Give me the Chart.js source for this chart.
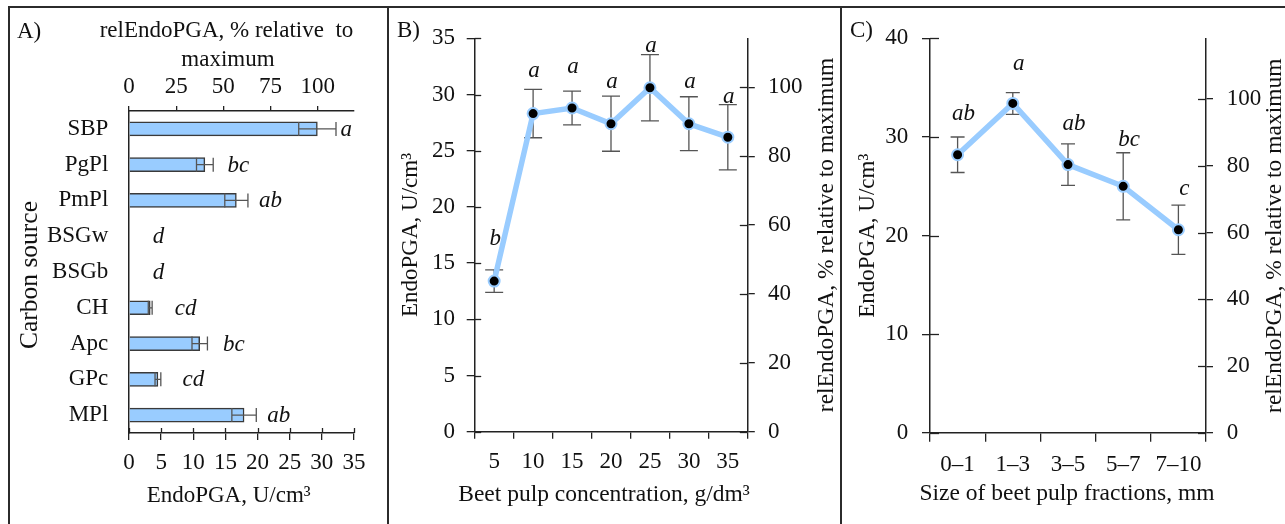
<!DOCTYPE html>
<html>
<head>
<meta charset="utf-8">
<script src="https://cdn.jsdelivr.net/npm/chart.js@4.4.1/dist/chart.umd.min.js"></script>
<style>
  html, body { margin: 0; padding: 0; background: #fff; }
  body { width: 1285px; height: 524px; position: relative; overflow: hidden; }
  canvas { position: absolute; }
  .rule { position: absolute; background: #2b2b2b; }
</style>
</head>
<body>
<div class="rule" style="left:8px; top:6px; width:1277px; height:2px"></div>
<div class="rule" style="left:8px; top:6px; width:2px; height:518px"></div>
<div class="rule" style="left:387px; top:6px; width:2px; height:518px"></div>
<div class="rule" style="left:840px; top:6px; width:2px; height:518px"></div>
<canvas id="chartA" width="377" height="516" style="left:10px; top:8px"></canvas>
<canvas id="chartB" width="449" height="516" style="left:390px; top:8px"></canvas>
<canvas id="chartC" width="443" height="516" style="left:842px; top:8px"></canvas>
<script>
// A) carbon source
const carbonSources = ['SBP', 'PgPl', 'PmPl', 'BSGw', 'BSGb', 'CH', 'Apc', 'GPc', 'MPl'];
const carbonActivity = [29.3, 11.8, 16.7, 0, 0, 3.3, 11.0, 4.5, 17.9];
const carbonSd = [2.9, 1.3, 1.8, 0, 0, 0.3, 1.2, 0.45, 1.9];
const carbonGroups = ['a', 'bc', 'ab', 'd', 'd', 'cd', 'bc', 'cd', 'ab'];
const carbonGroupAt = [33.8, 17.0, 22.0, 4.6, 4.6, 8.8, 16.3, 10.0, 23.3];

// B) beet pulp concentration
const concLabels = ['5', '10', '15', '20', '25', '30', '35'];
const concActivity = [13.4, 28.3, 28.8, 27.4, 30.6, 27.4, 26.2];
const concSd = [1.0, 2.15, 1.5, 2.45, 2.95, 2.4, 2.9];
const concGroups = ['b', 'a', 'a', 'a', 'a', 'a', 'a'];
const concGroupAt = [17.05, 32.0, 32.4, 31.0, 34.25, 31.0, 29.7];

// C) beet pulp fraction size
const sizeLabels = ['0–1', '1–3', '3–5', '5–7', '7–10'];
const sizeActivity = [28.2, 33.4, 27.2, 25.0, 20.6];
const sizeSd = [1.8, 1.1, 2.1, 3.4, 2.5];
const sizeGroups = ['ab', 'a', 'ab', 'bc', 'c'];
const sizeGroupAt = [32.2, 37.3, 31.2, 29.6, 24.6];

// tick labels
const activityTicksA = [0, 5, 10, 15, 20, 25, 30, 35];
const relTicksA = [0, 25, 50, 75, 100];
const activityTicksB = [0, 5, 10, 15, 20, 25, 30, 35];
const relTicksB = [0, 20, 40, 60, 80, 100];
const activityTicksC = [0, 10, 20, 30, 40];
const relTicksC = [0, 20, 40, 60, 80, 100];

// activity that equals 100 % on the relative axis of each panel
const relFullA = 29.35, relFullB = 30.64, relFullC = 33.84;

const FAMILY = '"Liberation Serif", "Times New Roman", serif';
const FS = 23;
const INK = '#111';
const AXIS = '#222';
const BLUE = '#99ccff';

function drawErrors(chart, o) {
  const ctx = chart.ctx;
  const meta = chart.getDatasetMeta(0);
  const vs = chart.scales[o.valueAxis];
  ctx.save();
  ctx.strokeStyle = '#555';
  ctx.lineWidth = 1.3;
  o.values.forEach((v, i) => {
    const e = o.errors[i];
    if (!e) return;
    const el = meta.data[i];
    const a = vs.getPixelForValue(v - e);
    const b = vs.getPixelForValue(v + e);
    ctx.beginPath();
    if (o.horizontal) {
      const y = el.y;
      ctx.moveTo(a, y); ctx.lineTo(b, y);
      ctx.moveTo(a, y - o.cap); ctx.lineTo(a, y + o.cap);
      ctx.moveTo(b, y - o.cap); ctx.lineTo(b, y + o.cap);
    } else {
      const x = el.x;
      ctx.moveTo(x, a); ctx.lineTo(x, b);
      ctx.moveTo(x - o.cap, a); ctx.lineTo(x + o.cap, a);
      ctx.moveTo(x - o.cap, b); ctx.lineTo(x + o.cap, b);
    }
    ctx.stroke();
  });
  ctx.restore();
}

function drawGroups(chart, o) {
  const ctx = chart.ctx;
  const meta = chart.getDatasetMeta(0);
  const vs = chart.scales[o.valueAxis];
  ctx.save();
  ctx.fillStyle = INK;
  ctx.font = 'italic ' + FS + 'px ' + FAMILY;
  ctx.textAlign = 'center';
  ctx.textBaseline = 'alphabetic';
  o.groups.forEach((g, i) => {
    const el = meta.data[i];
    if (o.horizontal) {
      ctx.fillText(g, vs.getPixelForValue(o.groupAt[i]), el.y + 7);
    } else {
      ctx.fillText(g, el.x + o.dx, vs.getPixelForValue(o.groupAt[i]) + 5);
    }
  });
  ctx.restore();
}

function drawInnerTicks(chart, list) {
  const {ctx, chartArea: ca} = chart;
  ctx.save();
  ctx.strokeStyle = AXIS;
  ctx.lineWidth = 1.3;
  list.forEach(({axis, len}) => {
    const s = chart.scales[axis];
    s.ticks.forEach((t, i) => {
      const p = Math.round(s.getPixelForTick(i)) + 0.5;
      ctx.beginPath();
      if (s.position === 'left') { ctx.moveTo(ca.left, p); ctx.lineTo(ca.left + len, p); }
      else if (s.position === 'right') { ctx.moveTo(ca.right - len, p); ctx.lineTo(ca.right, p); }
      else { ctx.moveTo(p, ca.bottom - len); ctx.lineTo(p, ca.bottom); }
      ctx.stroke();
    });
  });
  ctx.restore();
}

function drawTexts(chart, texts) {
  const ctx = chart.ctx;
  texts.forEach(t => {
    ctx.save();
    ctx.fillStyle = INK;
    ctx.font = (t.size || FS) + 'px ' + FAMILY;
    ctx.textAlign = t.align || 'center';
    ctx.textBaseline = 'alphabetic';
    ctx.translate(t.x, t.y);
    if (t.rot) ctx.rotate(-Math.PI / 2);
    ctx.fillText(t.text, 0, 0);
    ctx.restore();
  });
}

const panelDecor = {
  id: 'panelDecor',
  beforeDatasetsDraw(chart, args, o) {
    if (!o.errorsOnTop) drawErrors(chart, o);
  },
  afterDatasetsDraw(chart, args, o) {
    if (o.errorsOnTop) drawErrors(chart, o);
    drawGroups(chart, o);
    drawInnerTicks(chart, o.innerTicks || []);
    drawTexts(chart, o.texts || []);
  }
};

function fixedTicks(values) {
  return s => { s.ticks = values.map(v => ({value: v})); };
}

const tickFont = { color: INK, font: { family: FAMILY, size: FS }, autoSkip: false, maxRotation: 0 };

// ---- Panel A ----
new Chart(document.getElementById('chartA'), {
  type: 'bar',
  data: {
    labels: carbonSources,
    datasets: [{
      data: carbonActivity,
      backgroundColor: BLUE,
      borderColor: '#3a3a3a',
      borderWidth: 1.5,
      barThickness: 14,
      xAxisID: 'x',
      yAxisID: 'y'
    }]
  },
  options: {
    indexAxis: 'y',
    responsive: false,
    animation: false,
    layout: { autoPadding: false, padding: { top: 0, left: 0, right: 33, bottom: 0 } },
    plugins: {
      legend: { display: false },
      tooltip: { enabled: false },
      panelDecor: {
        horizontal: true,
        errorsOnTop: true,
        valueAxis: 'x',
        values: carbonActivity,
        errors: carbonSd,
        cap: 7,
        groups: carbonGroups,
        groupAt: carbonGroupAt,
        innerTicks: [{ axis: 'x', len: 5 }],
        texts: [
          { text: 'A)', x: 7, y: 30, align: 'left' },
          { text: 'relEndoPGA, % relative  to', x: 216.5, y: 29 },
          { text: 'maximum', x: 218, y: 58 },
          { text: 'EndoPGA, U/cm³', x: 218.7, y: 493.7 },
          { text: 'Carbon source', x: 27, y: 267, rot: true, size: 25.5 }
        ]
      }
    },
    scales: {
      x: {
        type: 'linear', position: 'bottom', min: 0, max: 35,
        afterBuildTicks: fixedTicks(activityTicksA),
        afterFit: s => { s.height = 91; },
        grid: { drawOnChartArea: false, color: AXIS, lineWidth: 1.3, tickLength: 7 },
        border: { color: AXIS, width: 1.5 },
        ticks: Object.assign({ padding: 9.4 }, tickFont)
      },
      x2: {
        type: 'linear', position: 'top', min: 0, max: 35 / relFullA * 100,
        afterBuildTicks: fixedTicks(relTicksA),
        afterFit: s => { s.height = 103; },
        grid: { drawOnChartArea: false, color: AXIS, lineWidth: 1.3, tickLength: 5 },
        border: { color: AXIS, width: 1.5 },
        ticks: Object.assign({ padding: 5.2 }, tickFont)
      },
      y: {
        type: 'category', position: 'left',
        afterFit: s => { s.width = 119; },
        grid: { display: false, drawTicks: false },
        border: { display: true, color: AXIS, width: 1.5 },
        ticks: Object.assign({ padding: 20.7 }, tickFont)
      }
    }
  },
  plugins: [panelDecor]
});

// ---- Panel B ----
new Chart(document.getElementById('chartB'), {
  type: 'line',
  data: {
    labels: concLabels,
    datasets: [{
      data: concActivity,
      borderColor: BLUE,
      borderWidth: 5.5,
      tension: 0,
      pointRadius: 5.5,
      pointBackgroundColor: '#000',
      pointBorderColor: BLUE,
      pointBorderWidth: 2,
      yAxisID: 'y'
    }]
  },
  options: {
    responsive: false,
    animation: false,
    layout: { autoPadding: false, padding: { top: 30.3, left: 0, right: 0, bottom: 0 } },
    plugins: {
      legend: { display: false },
      tooltip: { enabled: false },
      panelDecor: {
        horizontal: false,
        errorsOnTop: false,
        valueAxis: 'y',
        values: concActivity,
        errors: concSd,
        cap: 9,
        dx: 1,
        groups: concGroups,
        groupAt: concGroupAt,
        innerTicks: [{ axis: 'y', len: 6.5 }, { axis: 'y2', len: 7.5 }],
        texts: [
          { text: 'B)', x: 7, y: 28.7, align: 'left' },
          { text: 'EndoPGA, U/cm³', x: 27, y: 227, rot: true },
          { text: 'relEndoPGA, % relative to maximum', x: 443, y: 227, rot: true, size: 23.5 },
          { text: 'Beet pulp concentration, g/dm³', x: 214, y: 492.7, size: 23.5 }
        ]
      }
    },
    scales: {
      x: {
        type: 'category', offset: true,
        afterFit: s => { s.height = 92.3; },
        grid: { offset: true, drawOnChartArea: false, color: AXIS, lineWidth: 1.3, tickLength: 7 },
        border: { color: AXIS, width: 1.5 },
        ticks: Object.assign({ padding: 9.1 }, tickFont)
      },
      y: {
        type: 'linear', position: 'left', min: 0, max: 35,
        afterBuildTicks: fixedTicks(activityTicksB),
        afterFit: s => { s.width = 84.7; },
        grid: { drawOnChartArea: false, color: AXIS, lineWidth: 1.3, tickLength: 8 },
        border: { color: AXIS, width: 1.5 },
        ticks: Object.assign({ padding: 11.7 }, tickFont)
      },
      y2: {
        type: 'linear', position: 'right', min: 0, max: 35 / relFullB * 100,
        afterBuildTicks: fixedTicks(relTicksB),
        afterFit: s => { s.width = 91.7; },
        grid: { drawOnChartArea: false, color: AXIS, lineWidth: 1.3, tickLength: 7.5 },
        border: { color: AXIS, width: 1.5 },
        ticks: Object.assign({ padding: 13.2 }, tickFont)
      }
    }
  },
  plugins: [panelDecor]
});

// ---- Panel C ----
new Chart(document.getElementById('chartC'), {
  type: 'line',
  data: {
    labels: sizeLabels,
    datasets: [{
      data: sizeActivity,
      borderColor: BLUE,
      borderWidth: 5.5,
      tension: 0,
      pointRadius: 5.5,
      pointBackgroundColor: '#000',
      pointBorderColor: BLUE,
      pointBorderWidth: 2,
      yAxisID: 'y'
    }]
  },
  options: {
    responsive: false,
    animation: false,
    layout: { autoPadding: false, padding: { top: 30.3, left: 0, right: 0, bottom: 0 } },
    plugins: {
      legend: { display: false },
      tooltip: { enabled: false },
      panelDecor: {
        horizontal: false,
        errorsOnTop: false,
        valueAxis: 'y',
        values: sizeActivity,
        errors: sizeSd,
        cap: 7,
        dx: 6,
        groups: sizeGroups,
        groupAt: sizeGroupAt,
        innerTicks: [{ axis: 'y', len: 9 }, { axis: 'y2', len: 8 }],
        texts: [
          { text: 'C)', x: 8, y: 29, align: 'left' },
          { text: 'EndoPGA, U/cm³', x: 32, y: 227.7, rot: true },
          { text: 'relEndoPGA, % relative to maximum', x: 439, y: 227.7, rot: true, size: 23.5 },
          { text: 'Size of beet pulp fractions, mm', x: 225, y: 492, size: 23.5 }
        ]
      }
    },
    scales: {
      x: {
        type: 'category', offset: true,
        afterFit: s => { s.height = 91; },
        grid: { offset: true, drawOnChartArea: false, color: AXIS, lineWidth: 1.3, tickLength: 8.7 },
        border: { color: AXIS, width: 1.5 },
        ticks: Object.assign({ padding: 9.4 }, tickFont)
      },
      y: {
        type: 'linear', position: 'left', min: 0, max: 40,
        afterBuildTicks: fixedTicks(activityTicksC),
        afterFit: s => { s.width = 88; },
        grid: { drawOnChartArea: false, color: AXIS, lineWidth: 1.3, tickLength: 8 },
        border: { color: AXIS, width: 1.5 },
        ticks: Object.assign({ padding: 13.7 }, tickFont)
      },
      y2: {
        type: 'linear', position: 'right', min: 0, max: 40 / relFullC * 100,
        afterBuildTicks: fixedTicks(relTicksC),
        afterFit: s => { s.width = 79; },
        grid: { drawOnChartArea: false, color: AXIS, lineWidth: 1.3, tickLength: 7 },
        border: { color: AXIS, width: 1.5 },
        ticks: Object.assign({ padding: 13.7 }, tickFont)
      }
    }
  },
  plugins: [panelDecor]
});
</script>
</body>
</html>
